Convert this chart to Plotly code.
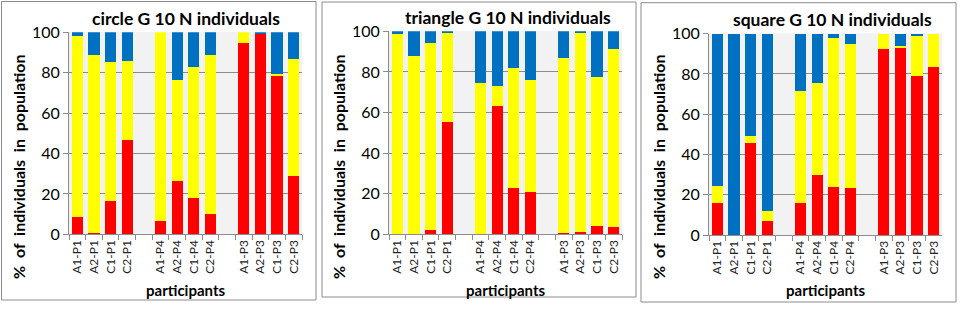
import plotly.graph_objects as go

categories = ["A1-P1", "A2-P1", "C1-P1", "C2-P1", " ",
              "A1-P4", "A2-P4", "C1-P4", "C2-P4", "  ",
              "A1-P3", "A2-P3", "C1-P3", "C2-P3"]

titles = ["circle G 10 N individuals", "triangle G 10 N individuals", "square G 10 N individuals"]

# red (bottom), yellow (middle), blue (top) shares in %, None = gap slot
circle_red = [8.6, 0.7, 16.3, 46.5, None, 6.6, 26.6, 17.8, 10.1, None, 94.5, 99.2, 78.4, 28.7]
circle_yellow = [89.4, 88.2, 69.1, 39.2, None, 93.4, 49.8, 64.9, 78.8, None, 5.5, 0.1, 0.8, 58.2]
circle_blue = [2.0, 11.1, 14.6, 14.3, None, 0.0, 23.6, 17.3, 11.1, None, 0.0, 0.7, 20.8, 13.1]

triangle_red = [0.0, 0.0, 2.0, 55.3, None, 0.0, 63.0, 22.8, 20.7, None, 0.7, 1.0, 3.9, 3.8]
triangle_yellow = [98.7, 87.8, 92.4, 43.7, None, 74.7, 10.2, 59.0, 55.3, None, 86.0, 98.0, 73.6, 87.5]
triangle_blue = [1.3, 12.2, 5.6, 1.0, None, 25.3, 26.8, 18.2, 24.0, None, 13.3, 1.0, 22.5, 8.7]

square_red = [15.9, 0.0, 45.9, 7.0, None, 15.9, 30.0, 23.7, 23.3, None, 92.4, 92.9, 79.1, 83.3]
square_yellow = [8.3, 0.0, 3.3, 5.1, None, 55.6, 45.7, 74.3, 71.7, None, 7.6, 1.0, 19.9, 16.7]
square_blue = [75.8, 100.0, 50.8, 87.9, None, 28.5, 24.3, 2.0, 5.0, None, 0.0, 6.1, 1.0, 0.0]

y_ticks = [0, 20, 40, 60, 80, 100]

panels = [
    (circle_red, circle_yellow, circle_blue),
    (triangle_red, triangle_yellow, triangle_blue),
    (square_red, square_yellow, square_blue),
]

W, H = 964, 310
# plot areas in pixels: (x0, x1, ytop, ybottom)
areas = [(69, 302, 32.3, 234.3), (389, 622, 31.3, 234.3), (709, 942, 33.7, 235.0)]
boxes = [(1.5, 316, 1.5, 300), (322, 636, 2, 297), (641, 956, 2.7, 302)]

colors = ["#FF0000", "#FFFF00", "#0070C0"]
FONT = "Lato, 'Open Sans', sans-serif"

fig = go.Figure()
for i, (r, yl, b) in enumerate(panels):
    xa = "x" if i == 0 else f"x{i+1}"
    ya = "y" if i == 0 else f"y{i+1}"
    for vals, col in zip((r, yl, b), colors):
        fig.add_trace(go.Bar(x=categories, y=vals, marker=dict(color=col, line=dict(width=0)),
                             xaxis=xa, yaxis=ya, showlegend=False))

layout = dict(
    width=W, height=H, margin=dict(l=0, r=0, t=0, b=0, autoexpand=False),
    paper_bgcolor="white", barmode="stack", bargap=0.33,
    font=dict(family=FONT, color="#000000"),
    shapes=[], annotations=[],
)

title_dx = [0, 2, 7]
for i in range(3):
    x0, x1, yt, yb = areas[i]
    sfx = "" if i == 0 else str(i + 1)
    layout["xaxis" + sfx] = dict(
        domain=[x0 / W, x1 / W], anchor="y" + sfx, type="category",
        categoryorder="array", categoryarray=categories,
        tickangle=-90, tickfont=dict(size=12, family=FONT, color="#222"),
        ticks="outside", tickson="boundaries", ticklen=5, tickcolor="#8c8c8c",
        showline=True, linecolor="#8c8c8c", linewidth=1, showgrid=False,
        fixedrange=True, automargin=False,
    )
    layout["yaxis" + sfx] = dict(
        domain=[1 - yb / H, 1 - yt / H], anchor="x" + sfx, range=[0, 100],
        tickvals=y_ticks, tickfont=dict(size=16, family=FONT, color="#000"),
        ticks="outside", ticklen=5, tickcolor="#8c8c8c",
        showline=True, linecolor="#8c8c8c", linewidth=1,
        showgrid=True, gridcolor="#8c8c8c", gridwidth=1, zeroline=False,
        fixedrange=True, automargin=False,
    )
    # plot background
    layout["shapes"].append(dict(type="rect", xref="paper", yref="paper", layer="below",
                                 x0=x0 / W, x1=x1 / W, y0=1 - yb / H, y1=1 - yt / H,
                                 fillcolor="#F2F2F2", line=dict(width=0)))
    bx0, bx1, by0, by1 = boxes[i]
    layout["shapes"].append(dict(type="rect", xref="paper", yref="paper",
                                 x0=bx0 / W, x1=bx1 / W, y0=1 - by1 / H, y1=1 - by0 / H,
                                 line=dict(color="#8c8c8c", width=1), fillcolor="rgba(0,0,0,0)"))
    cx = (x0 + x1) / 2
    layout["annotations"].append(dict(text=f"<b>{titles[i]}</b>", xref="paper", yref="paper",
                                      x=(cx + title_dx[i]) / W, y=1 - (yt - 14) / H,
                                      xanchor="center", yanchor="middle", showarrow=False,
                                      font=dict(size=17.5, family=FONT, color="#000")))
    layout["annotations"].append(dict(text="<b>participants</b>", xref="paper", yref="paper",
                                      x=cx / W, y=1 - 290 / H, xanchor="center", yanchor="middle",
                                      showarrow=False, font=dict(size=15, family=FONT, color="#000")))
    layout["annotations"].append(dict(text="<b>%  of  individuals  in  population</b>", xref="paper", yref="paper",
                                      x=(x0 - 51) / W, y=1 - 167 / H, xanchor="center", yanchor="middle",
                                      textangle=-90, showarrow=False,
                                      font=dict(size=16, family=FONT, color="#000")))

fig.update_layout(**layout)
fig.write_html("out.html", config={"displayModeBar": False},
               post_script="document.body.style.margin='0';document.body.style.overflow='hidden';")
